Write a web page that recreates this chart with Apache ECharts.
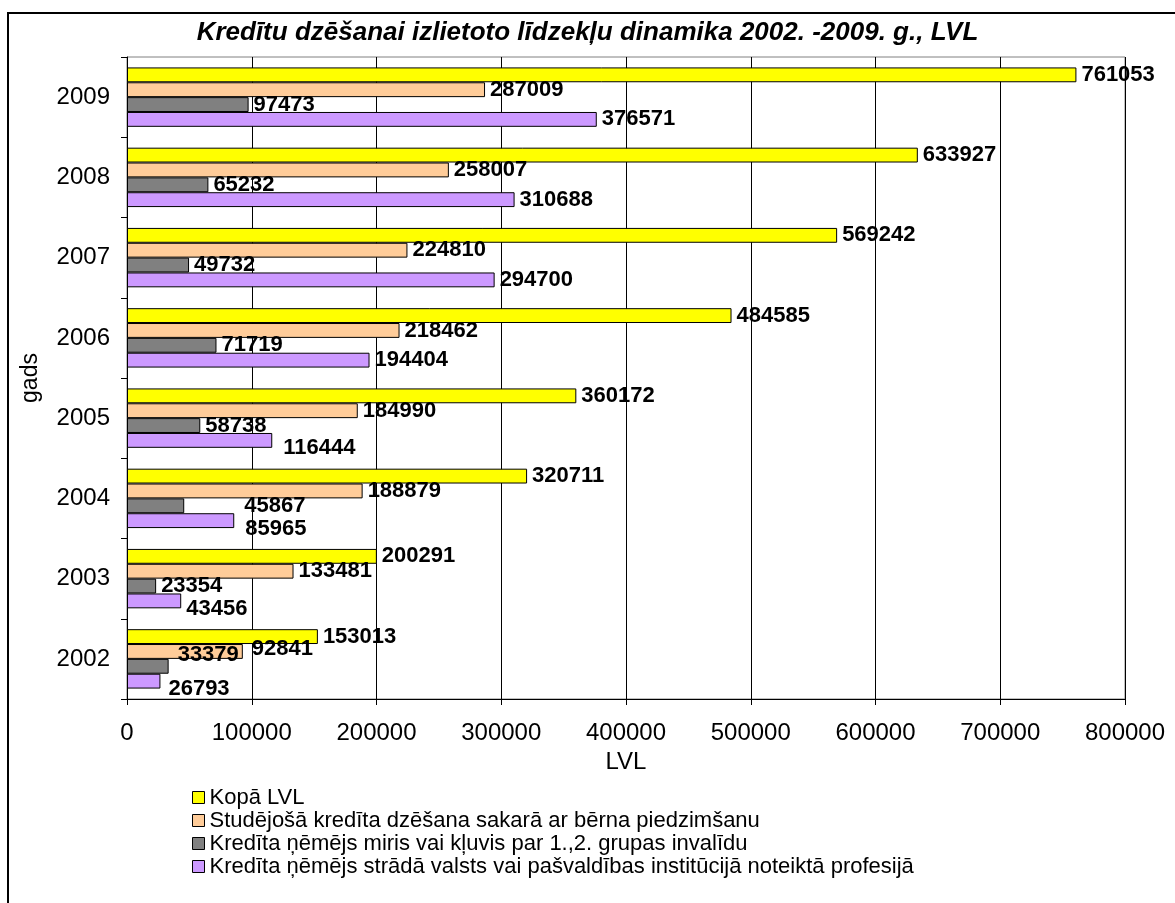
<!DOCTYPE html>
<html>
<head>
<meta charset="utf-8">
<script src="https://cdn.jsdelivr.net/npm/echarts@6/dist/echarts.min.js"></script>
<style>
  html, body { margin: 0; padding: 0; background: #fff; }
  #chart { width: 1175px; height: 903px; }
</style>
</head>
<body>
<div id="chart"></div>
<script>
// gadi (kategorijas)
var years = ['2002', '2003', '2004', '2005', '2006', '2007', '2008', '2009'];

// sēriju nosaukumi
var seriesNames = [
  'Kopā LVL',
  'Studējošā kredīta dzēšana sakarā ar bērna piedzimšanu',
  'Kredīta ņēmējs miris vai kļuvis par 1.,2. grupas invalīdu',
  'Kredīta ņēmējs strādā valsts vai pašvaldības institūcijā noteiktā profesijā'
];

// vērtības LVL
var kopa      = [153013, 200291, 320711, 360172, 484585, 569242, 633927, 761053];
var studejosa = [92841, 133481, 188879, 184990, 218462, 224810, 258007, 287009];
var miris     = [33379, 23354, 45867, 58738, 71719, 49732, 65232, 97473];
var strada    = [26793, 43456, 85965, 116444, 194404, 294700, 310688, 376571];

var xTicks = [0, 100000, 200000, 300000, 400000, 500000, 600000, 700000, 800000];

var colors = ['#FFFF00', '#FFCC99', '#808080', '#CC99FF'];

// etiķešu pārbīdes (kā Excel oriģinālā) : sērija -> gads -> [dx, dy]
var labelShift = {
  1: { '2002': [4, -3] },
  2: { '2002': [4, -11], '2004': [55, 0] },
  3: { '2002': [3, 8], '2003': [0, 8], '2004': [6, 8], '2005': [6, 8] }
};

var allData = [kopa, studejosa, miris, strada];
var font = 'Liberation Sans, Arial, sans-serif';

var chart = echarts.init(document.getElementById('chart'));

var series = [];
for (var s = 0; s < allData.length; s++) {
  var data = [];
  for (var i = 0; i < years.length; i++) {
    var item = { value: allData[s][i] };
    var sh = labelShift[s] && labelShift[s][years[i]];
    if (sh) {
      item.label = { offset: sh };
    }
    data.push(item);
  }
  series.push({
    name: seriesNames[s],
    type: 'bar',
    data: data,
    barGap: '0%',
    barCategoryGap: '26%',
    itemStyle: {
      color: colors[s],
      borderColor: '#000',
      borderWidth: 1
    },
    label: {
      show: true,
      position: 'right',
      distance: 5,
      color: '#000',
      fontSize: 22,
      fontWeight: 'bold',
      fontFamily: font
    }
  });
}

chart.setOption({
  animation: false,
  backgroundColor: '#fff',
  textStyle: { fontFamily: font, color: '#000' },
  title: {
    text: 'Kredītu dzēšanai izlietoto līdzekļu dinamika 2002. -2009. g., LVL',
    left: 'center',
    top: 15,
    textStyle: {
      fontSize: 26,
      fontWeight: 'bold',
      fontStyle: 'italic',
      color: '#000',
      fontFamily: font
    }
  },
  legend: {
    data: seriesNames,
    orient: 'vertical',
    left: 187,
    top: 781,
    itemWidth: 12,
    itemHeight: 12,
    itemGap: 0,
    icon: 'rect',
    itemStyle: { borderColor: '#000', borderWidth: 1 },
    textStyle: { fontSize: 22, lineHeight: 23, color: '#000', fontFamily: font }
  },
  graphic: [{
    type: 'rect',
    shape: { x: 8, y: 13, width: 1200, height: 1000 },
    style: { fill: 'none', stroke: '#000', lineWidth: 2 },
    silent: true
  }],
  grid: {
    left: 127,
    right: 50,
    top: 57,
    bottom: 204,
    show: true,
    borderColor: '#808080',
    borderWidth: 1
  },
  xAxis: {
    type: 'value',
    min: xTicks[0],
    max: xTicks[xTicks.length - 1],
    interval: xTicks[1] - xTicks[0],
    name: 'LVL',
    nameLocation: 'middle',
    nameGap: 45,
    nameTextStyle: { fontSize: 24, color: '#000' },
    axisLine: { show: true, lineStyle: { color: '#000', width: 1 } },
    axisTick: { show: true, length: 6, lineStyle: { color: '#000' } },
    axisLabel: {
      fontSize: 24,
      color: '#000',
      margin: 22,
      formatter: function (v) { return String(v); }
    },
    splitLine: { show: true, lineStyle: { color: '#000', width: 1 } }
  },
  yAxis: {
    type: 'category',
    data: years,
    name: 'gads',
    nameLocation: 'middle',
    nameGap: 85,
    nameRotate: 90,
    nameTextStyle: { fontSize: 23, color: '#000' },
    axisLine: { show: true, lineStyle: { color: '#000', width: 1 } },
    axisTick: { show: true, length: 6, lineStyle: { color: '#000' } },
    axisLabel: { fontSize: 24, color: '#000', margin: 17 }
  },
  series: series
});
</script>
</body>
</html>
